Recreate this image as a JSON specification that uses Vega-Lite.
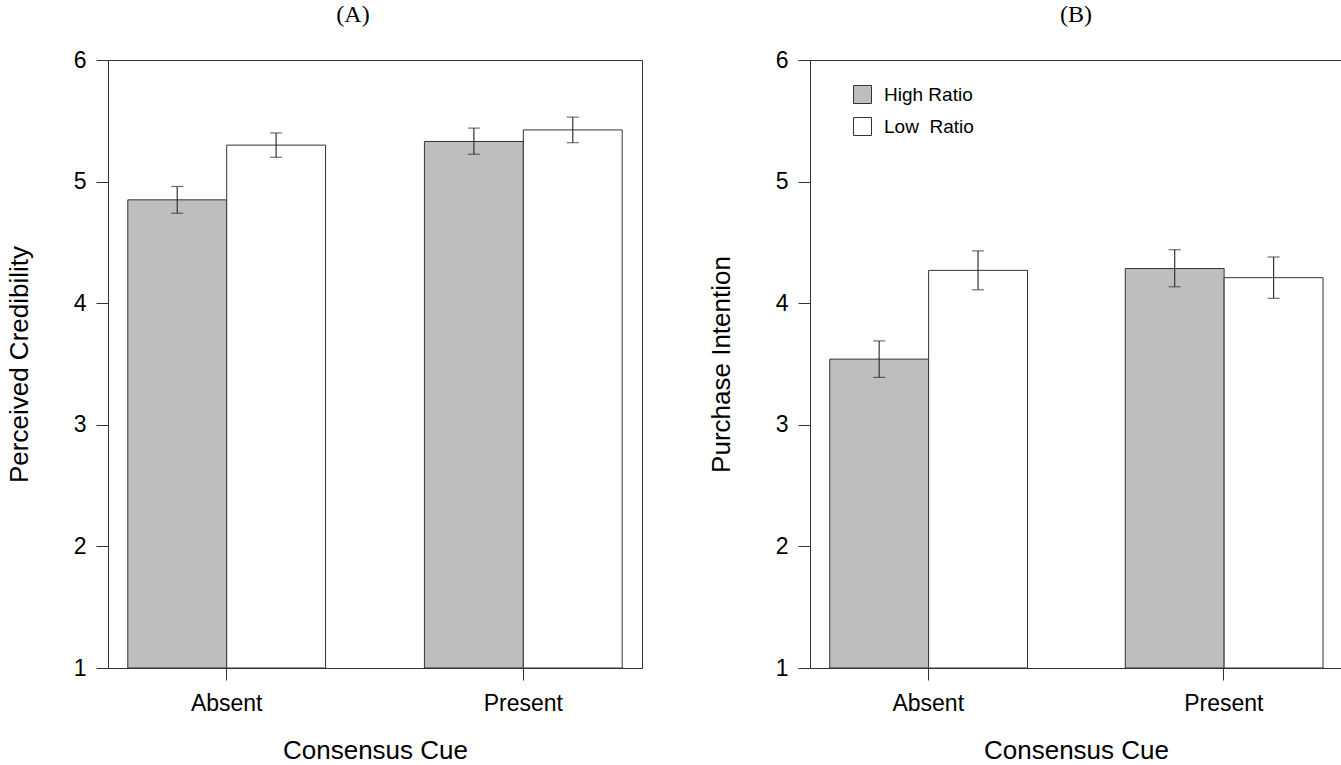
{
  "$schema": "https://vega.github.io/schema/vega-lite/v6.json",
  "background": "white",
  "padding": {"left": 5, "top": 2, "right": 0, "bottom": 0},
  "bounds": "flush",
  "spacing": 168,
  "datasets": {
    "means": [
      {"panel": "A", "cue": "Absent", "ratio": "High Ratio", "mean": 4.85, "lo": 4.74, "hi": 4.96},
      {"panel": "A", "cue": "Absent", "ratio": "Low  Ratio", "mean": 5.30, "lo": 5.20, "hi": 5.40},
      {"panel": "A", "cue": "Present", "ratio": "High Ratio", "mean": 5.33, "lo": 5.225, "hi": 5.44},
      {"panel": "A", "cue": "Present", "ratio": "Low  Ratio", "mean": 5.425, "lo": 5.32, "hi": 5.53},
      {"panel": "B", "cue": "Absent", "ratio": "High Ratio", "mean": 3.54, "lo": 3.39, "hi": 3.69},
      {"panel": "B", "cue": "Absent", "ratio": "Low  Ratio", "mean": 4.27, "lo": 4.11, "hi": 4.43},
      {"panel": "B", "cue": "Present", "ratio": "High Ratio", "mean": 4.285, "lo": 4.135, "hi": 4.44},
      {"panel": "B", "cue": "Present", "ratio": "Low  Ratio", "mean": 4.21, "lo": 4.04, "hi": 4.38}
    ]
  },
  "hconcat": [
    {
      "width": 534,
      "height": 608,
      "data": {"name": "means"},
      "transform": [{"filter": "datum.panel === 'A'"}],
      "title": {"text": "(A)", "font": "Liberation Serif", "fontSize": 24, "fontWeight": "normal", "offset": 22, "dx": -22, "color": "#000"},
      "encoding": {
        "x": {
          "field": "cue", "type": "nominal", "sort": ["Absent", "Present"],
          "scale": {"paddingInner": 0.3333, "paddingOuter": 0.0667},
          "axis": {"title": "Consensus Cue", "labelAngle": 0, "domain": false, "tickSize": 12, "labelPadding": 12, "titlePadding": 22}
        },
        "xOffset": {"field": "ratio", "type": "nominal", "sort": ["High Ratio", "Low  Ratio"], "scale": {"paddingInner": 0, "paddingOuter": 0}}
      },
      "layer": [
        {
          "mark": {"type": "bar", "stroke": "#333", "strokeWidth": 1},
          "encoding": {
            "y": {"field": "mean", "type": "quantitative", "scale": {"domain": [1, 6], "zero": false, "nice": false},
              "axis": {"title": "Perceived Credibility", "values": [1, 2, 3, 4, 5, 6], "format": "d", "grid": false, "tickSize": 12, "labelPadding": 10, "titlePadding": 41}},
            "y2": {"datum": 1},
            "color": {"field": "ratio", "type": "nominal", "sort": ["High Ratio", "Low  Ratio"],
              "scale": {"domain": ["High Ratio", "Low  Ratio"], "range": ["#bebebe", "#ffffff"]}, "legend": null}
          }
        },
        {
          "mark": {"type": "rule", "color": "#333", "strokeWidth": 1.2},
          "encoding": {"y": {"field": "lo", "type": "quantitative"}, "y2": {"field": "hi"}}
        },
        {
          "mark": {"type": "tick", "color": "#333", "size": 12, "thickness": 1.2},
          "encoding": {"y": {"field": "lo", "type": "quantitative"}}
        },
        {
          "mark": {"type": "tick", "color": "#333", "size": 12, "thickness": 1.2},
          "encoding": {"y": {"field": "hi", "type": "quantitative"}}
        }
      ]
    },
    {
      "width": 532,
      "height": 608,
      "data": {"name": "means"},
      "transform": [{"filter": "datum.panel === 'B'"}],
      "title": {"text": "(B)", "font": "Liberation Serif", "fontSize": 24, "fontWeight": "normal", "offset": 22, "color": "#000"},
      "encoding": {
        "x": {
          "field": "cue", "type": "nominal", "sort": ["Absent", "Present"],
          "scale": {"paddingInner": 0.3333, "paddingOuter": 0.0667},
          "axis": {"title": "Consensus Cue", "labelAngle": 0, "domain": false, "tickSize": 12, "labelPadding": 12, "titlePadding": 22}
        },
        "xOffset": {"field": "ratio", "type": "nominal", "sort": ["High Ratio", "Low  Ratio"], "scale": {"paddingInner": 0, "paddingOuter": 0}}
      },
      "layer": [
        {
          "mark": {"type": "bar", "stroke": "#333", "strokeWidth": 1},
          "encoding": {
            "y": {"field": "mean", "type": "quantitative", "scale": {"domain": [1, 6], "zero": false, "nice": false},
              "axis": {"title": "Purchase Intention", "values": [1, 2, 3, 4, 5, 6], "format": "d", "grid": false, "tickSize": 12, "labelPadding": 10, "titlePadding": 41}},
            "y2": {"datum": 1},
            "color": {"field": "ratio", "type": "nominal", "sort": ["High Ratio", "Low  Ratio"],
              "scale": {"domain": ["High Ratio", "Low  Ratio"], "range": ["#bebebe", "#ffffff"]},
              "legend": {"title": null, "orient": "none", "legendX": 43, "legendY": 25, "symbolType": "square", "symbolSize": 324,
                "symbolStrokeColor": "#333", "symbolStrokeWidth": 1, "labelFontSize": 19, "labelFont": "Liberation Sans", "labelColor": "#000",
                "labelOffset": 12, "rowPadding": 9, "padding": 0,
                "labelExpr": "replace(datum.label, '  ', '\u00a0\u00a0')"}}
          }
        },
        {
          "mark": {"type": "rule", "color": "#333", "strokeWidth": 1.2},
          "encoding": {"y": {"field": "lo", "type": "quantitative"}, "y2": {"field": "hi"}}
        },
        {
          "mark": {"type": "tick", "color": "#333", "size": 12, "thickness": 1.2},
          "encoding": {"y": {"field": "lo", "type": "quantitative"}}
        },
        {
          "mark": {"type": "tick", "color": "#333", "size": 12, "thickness": 1.2},
          "encoding": {"y": {"field": "hi", "type": "quantitative"}}
        }
      ]
    }
  ],
  "resolve": {"scale": {"color": "independent", "y": "independent"}, "legend": {"color": "independent"}},
  "config": {
    "view": {"stroke": "#333", "strokeWidth": 1},
    "font": "Liberation Sans",
    "axis": {
      "labelFont": "Liberation Sans", "labelFontSize": 23, "labelColor": "#000",
      "titleFont": "Liberation Sans", "titleFontSize": 26, "titleFontWeight": "normal", "titleColor": "#000",
      "domainColor": "#333", "tickColor": "#333", "tickWidth": 1, "domainWidth": 1
    }
  }
}
